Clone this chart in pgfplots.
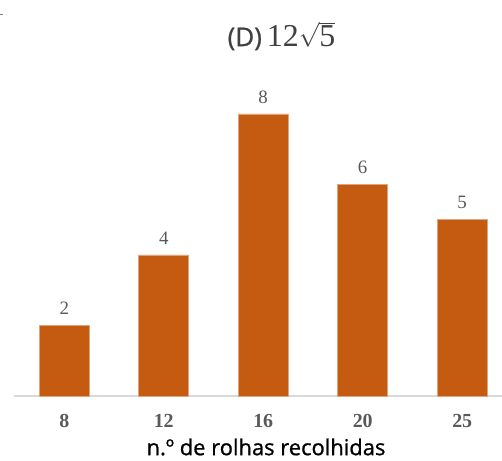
\documentclass[border=0pt]{standalone}
\usepackage{fontspec}
\setmainfont{Liberation Serif}
\newfontfamily\osans{Open Sans}
\newfontfamily\osfb[FakeBold=0.9]{Open Sans}
\usepackage{pgfplots}
\pgfplotsset{compat=1.18}
\definecolor{barc}{HTML}{C55A11}
\definecolor{txt}{HTML}{595959}
\definecolor{ttl}{HTML}{404040}
\begin{document}
\begin{tikzpicture}[x=1bp,y=1bp]
\path[use as bounding box] (0,0) rectangle (502,461);
\draw[gray, line width=1bp] (0,446) -- (3,446);
\begin{axis}[
  at={(14bp,65bp)}, anchor=south west,
  scale only axis, width=488bp, height=317.25bp,
  xmin=-0.505, xmax=4.4, ymin=0, ymax=9,
  ybar, bar width=50bp,
  axis x line*=bottom, axis y line=none,
  x axis line style={draw=black!15, line width=1.2bp, -},
  xtick={0,1,2,3,4}, xticklabels={8,12,16,20,25},
  major tick length=0pt,
  xticklabel style={font=\fontsize{20}{20}\selectfont\bfseries, text=txt, inner sep=0pt, anchor=north, yshift=-18bp},
  ytick=\empty,
  clip=false,
  nodes near coords,
  every node near coord/.append style={font=\fontsize{19}{19}\selectfont, text=txt, anchor=south, inner sep=0pt, yshift=10.5bp},
  /pgf/number format/assume math mode=true,
]
\addplot[fill=barc, draw=barc!55!white, line width=0.5pt] coordinates {(0,2) (1,4) (2,8) (3,6) (4,5)};
\end{axis}
\node[text=ttl, inner sep=0pt] at (281.5,425) {{\osfb\fontsize{26}{26}\selectfont (D)}\hspace{5bp}{\fontsize{32}{32}\selectfont 12$\sqrt{\hbox{5}}$}};
\node[inner sep=0pt] at (266,14) {\osfb\fontsize{22}{22}\selectfont n.º de rolhas recolhidas};
\end{tikzpicture}
\end{document}
